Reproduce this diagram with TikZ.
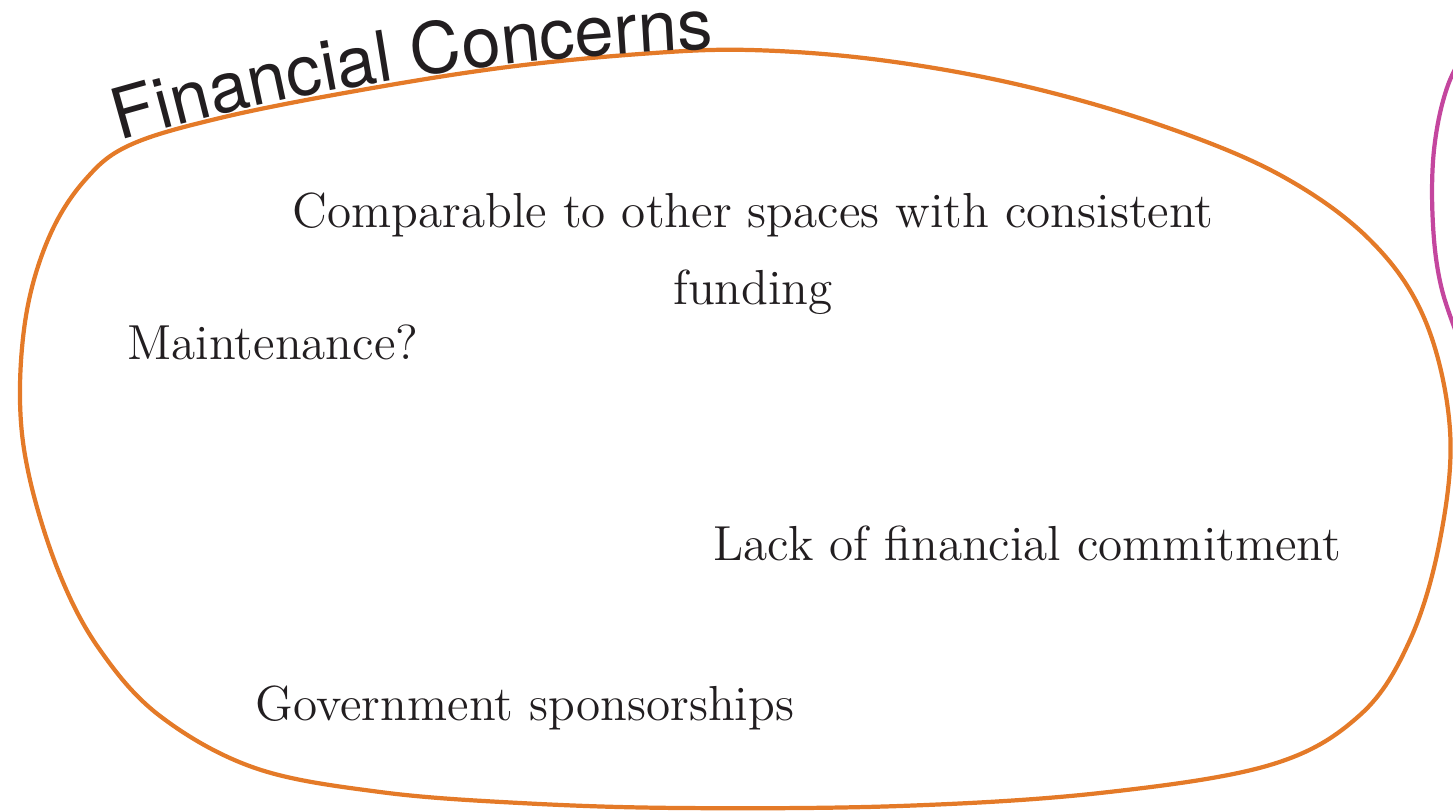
\documentclass[tikz,border=0pt]{standalone}
\usepackage{fontspec}
\usepackage{tikz}
\usetikzlibrary{decorations.text}
\newfontfamily\titlefont{TeX Gyre Heros}
\definecolor{blobcolor}{RGB}{228,122,40}
\definecolor{nextcolor}{RGB}{196,70,158}
\definecolor{inkcolor}{RGB}{34,30,32}

\begin{document}
\begin{tikzpicture}[
  x=0.01cm, y=-0.01cm,
  blob/.style={draw=blobcolor, line width=1.2pt},
  other/.style={draw=nextcolor, line width=1.2pt},
  idea/.style={font=\fontsize{14}{22}\selectfont, text=inkcolor, align=center, inner sep=0pt}
]
\useasboundingbox (0,0) rectangle (1453,812);

% Financial concerns outline
\draw[blob] plot[smooth cycle, tension=0.6] coordinates {
  (130,145) (220,118) (350,92) (500,68) (640,54) (750,50) (880,60)
  (1020,85) (1160,125) (1280,175) (1370,240) (1425,320) (1450,430)
  (1440,540) (1410,640) (1360,715) (1270,765) (1100,793) (900,806)
  (680,808) (520,803) (380,792) (255,768) (160,716) (100,650)
  (60,575) (30,480) (20,400) (27,310) (50,235) (85,180)};

% neighbouring group, cut by the edge
\draw[other] plot[smooth, tension=0.6] coordinates {
  (1475,35) (1448,85) (1434,150) (1433,225) (1442,290) (1465,355)};

% Title on the outline
\path[decorate, decoration={text along path, text align=left,
      text={|\titlefont\fontsize{20}{20}\selectfont\color{inkcolor}|Financial Concerns}}]
  (120,141) .. controls (330,80) and (560,48) .. (830,46);

% Ideas
\node[idea] (comparable) at (753,254) {Comparable to other spaces with consistent\\funding};
\node[idea, anchor=west] (maintenance) at (127,342) {Maintenance?};
\node[idea, anchor=west] (commitment) at (713,543) {Lack of financial commitment};
\node[idea, anchor=west] (sponsorships) at (255,708) {Government sponsorships};

\end{tikzpicture}
\end{document}
